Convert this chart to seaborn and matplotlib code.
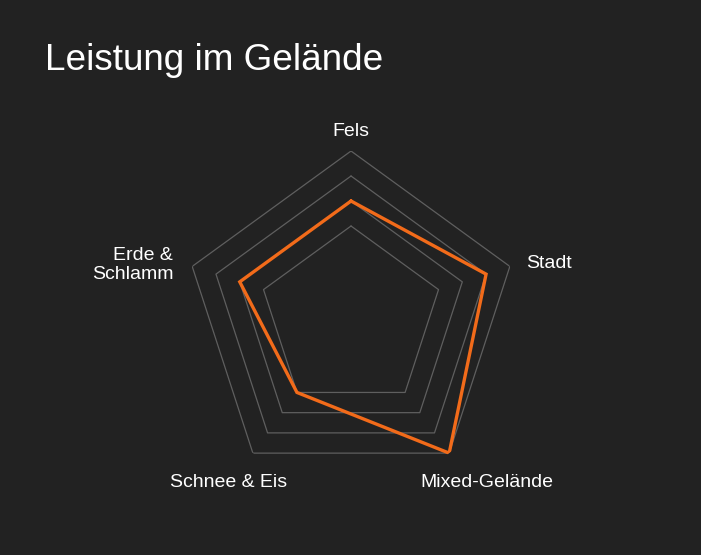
import numpy as np
import pandas as pd
import matplotlib
matplotlib.use("Agg")
import matplotlib.pyplot as plt
import seaborn as sns

categories = ["Fels", "Stadt", "Mixed-Gelände", "Schnee & Eis", "Erde &\nSchlamm"]
values = [8, 9, 10, 7, 8]
ring_values = [7, 8, 9, 10]
r_min = 3.32
r_max = 10

BG = "#222222"
ORANGE = "#F26B1A"
GRID = "#5f5f5f"

sns.set_theme(style="dark")
plt.rcParams["font.family"] = ["Liberation Sans", "DejaVu Sans"]

fig = plt.figure(figsize=(7.01, 5.55), dpi=100)
fig.patch.set_facecolor(BG)
ax = fig.add_axes([0.2625, 0.1261, 0.4765, 0.6018], projection="polar")
ax.set_facecolor(BG)
ax.set_theta_offset(np.pi / 2)
ax.set_theta_direction(-1)

n = len(categories)
angles = np.linspace(0, 2 * np.pi, n, endpoint=False)
closed_angles = np.append(angles, angles[0])

# pentagon grid
for rv in ring_values:
    ax.plot(closed_angles, [rv] * (n + 1), color=GRID, lw=0.9, zorder=1)

df = pd.DataFrame({"theta": closed_angles, "r": values + values[:1]})
sns.lineplot(data=df, x="theta", y="r", sort=False, ax=ax, color=ORANGE,
             lw=2.4, zorder=3, estimator=None)
ax.lines[-1].set_solid_joinstyle("miter")

ax.set_ylim(r_min, r_max)
ax.grid(False)
ax.spines["polar"].set_visible(False)
ax.set_xticks([])
ax.set_yticks([])
ax.set_xlabel("")
ax.set_ylabel("")

# category labels, anchored at the outer vertex with a pixel offset
label_style = [
    dict(offset=(0, 15), ha="center", va="baseline"),
    dict(offset=(16, -2), ha="left", va="baseline"),
    dict(offset=(38, -34), ha="center", va="baseline"),
    dict(offset=(-24, -34), ha="center", va="baseline"),
    dict(offset=(-19, 1), ha="right", va="center"),
]
for a, cat, st in zip(angles, categories, label_style):
    ax.annotate(cat, xy=(a, r_max), xytext=st["offset"],
                textcoords="offset pixels", ha=st["ha"], va=st["va"],
                color="white", fontsize=14, linespacing=1.14,
                multialignment="right", annotation_clip=False)

fig.text(45 / 701, 1 - 70 / 555, "Leistung im Gelände", color="white",
         fontsize=26.6, ha="left", va="baseline")

fig.savefig("out.png", dpi=100, facecolor=BG)
